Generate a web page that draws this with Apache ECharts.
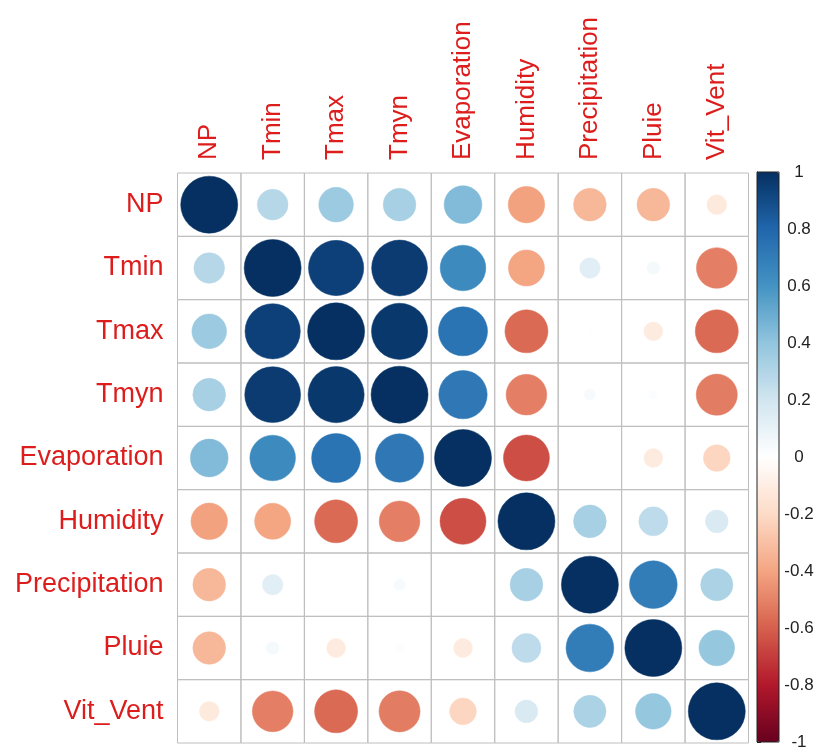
<!DOCTYPE html>
<html>
<head>
<meta charset="utf-8">
<title>Correlation matrix</title>
<script src="https://cdn.jsdelivr.net/npm/echarts@6/dist/echarts.min.js"></script>
<style>
  html, body { margin: 0; padding: 0; background: #ffffff; }
  #chart { width: 831px; height: 756px; }
</style>
</head>
<body>
<div id="chart"></div>
<script>
// Variable names (rows and columns of the correlation matrix)
const variables = ['NP', 'Tmin', 'Tmax', 'Tmyn', 'Evaporation', 'Humidity', 'Precipitation', 'Pluie', 'Vit_Vent'];

// Pearson correlation coefficients, one row per variable
const corNP            = [ 1.00,  0.29,  0.37,  0.33,  0.44, -0.41, -0.33, -0.33, -0.12];
const corTmin          = [ 0.29,  1.00,  0.94,  0.96,  0.64, -0.40,  0.13,  0.05, -0.51];
const corTmax          = [ 0.37,  0.94,  1.00,  0.97,  0.74, -0.57,  0.01, -0.11, -0.57];
const corTmyn          = [ 0.33,  0.96,  0.97,  1.00,  0.72, -0.51,  0.04,  0.02, -0.52];
const corEvaporation   = [ 0.44,  0.64,  0.74,  0.72,  1.00, -0.65,  0.00, -0.11, -0.22];
const corHumidity      = [-0.41, -0.40, -0.57, -0.51, -0.65,  1.00,  0.33,  0.26,  0.16];
const corPrecipitation = [-0.33,  0.13,  0.01,  0.04,  0.00,  0.33,  1.00,  0.70,  0.32];
const corPluie         = [-0.33,  0.05, -0.11,  0.02, -0.11,  0.26,  0.70,  1.00,  0.39];
const corVitVent       = [-0.12, -0.51, -0.57, -0.52, -0.22,  0.16,  0.32,  0.39,  1.00];

const corRows = [corNP, corTmin, corTmax, corTmyn, corEvaporation, corHumidity, corPrecipitation, corPluie, corVitVent];

// Diverging red-blue palette, from -1 to 1
const rdBu = ['#67001F', '#B2182B', '#D6604D', '#F4A582', '#FDDBC7', '#FFFFFF',
              '#D1E5F0', '#92C5DE', '#4393C3', '#2166AC', '#053061'];

// Cells as [column, row, r]
const cells = [];
corRows.forEach(function (row, i) {
  row.forEach(function (r, j) {
    cells.push([j, i, r]);
  });
});

const labelColor = '#DD1C1C';
const fontFamily = '"Liberation Sans", Arial, sans-serif';

const grid = { left: 177.5, top: 173, width: 571, height: 570 };
const bar = { left: 757, top: 172, width: 22, height: 570 };

const chart = echarts.init(document.getElementById('chart'), null, { renderer: 'canvas' });

chart.setOption({
  backgroundColor: '#ffffff',
  animation: false,
  textStyle: { fontFamily: fontFamily },
  grid: [
    { left: grid.left, top: grid.top, width: grid.width, height: grid.height, containLabel: false },
    { left: bar.left, top: bar.top, width: bar.width, height: bar.height, z: 6,
      show: true, borderColor: '#222222', borderWidth: 1, backgroundColor: 'transparent' }
  ],
  xAxis: [
    {
      gridIndex: 0, type: 'category', data: variables, position: 'top',
      axisLine: { show: false }, axisTick: { show: false }, splitLine: { show: false },
      axisLabel: { rotate: -90, margin: 13, fontSize: 26, color: labelColor, fontFamily: fontFamily, interval: 0 }
    },
    { gridIndex: 1, type: 'value', show: false, min: 0, max: 1 }
  ],
  yAxis: [
    {
      gridIndex: 0, type: 'category', data: variables, inverse: true,
      axisLine: { show: false }, axisTick: { show: false }, splitLine: { show: false },
      axisLabel: { margin: 14, fontSize: 27, color: labelColor, fontFamily: fontFamily, interval: 0 }
    },
    {
      gridIndex: 1, type: 'value', position: 'right', min: -1, max: 1, interval: 0.2,
      axisLine: { show: true, lineStyle: { color: '#222222', width: 1 } },
      axisTick: { show: true, length: 4, lineStyle: { color: '#222222' } },
      splitLine: { show: false },
      axisLabel: {
        margin: 20, fontSize: 17, color: '#222222', align: 'center', fontFamily: fontFamily,
        formatter: function (v) { return String(Math.round(v * 10) / 10); }
      }
    }
  ],
  visualMap: {
    type: 'continuous',
    min: -1, max: 1,
    dimension: 2,
    seriesIndex: 0,
    orient: 'vertical',
    left: bar.left, top: bar.top,
    itemWidth: bar.width, itemHeight: bar.height,
    padding: 0,
    calculable: false,
    hoverLink: false,
    text: null,
    inRange: { color: rdBu },
    z: 4
  },
  series: [{
    type: 'custom',
    xAxisIndex: 0, yAxisIndex: 0,
    data: cells,
    encode: { x: 0, y: 1 },
    renderItem: function (params, api) {
      const c = api.coord([api.value(0), api.value(1)]);
      const s = api.size([1, 1]);
      const r = api.value(2);
      const radius = 0.45 * Math.sqrt(Math.abs(r)) * Math.min(s[0], s[1]);
      return {
        type: 'group',
        children: [
          {
            type: 'rect',
            shape: { x: c[0] - s[0] / 2, y: c[1] - s[1] / 2, width: s[0], height: s[1] },
            style: { fill: 'none', stroke: '#BEBEBE', lineWidth: 1 }
          },
          {
            type: 'circle',
            shape: { cx: c[0], cy: c[1], r: radius },
            style: { fill: api.visual('color'), stroke: api.visual('color'), lineWidth: 0.5 }
          }
        ]
      };
    }
  }]
});
</script>
</body>
</html>
